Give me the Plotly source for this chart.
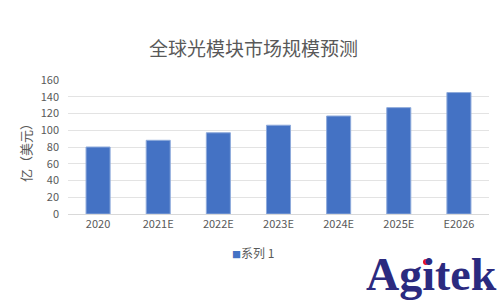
import plotly.graph_objects as go

# Global optical module market size forecast (unit: 100 million USD)
categories = ["2020", "2021E", "2022E", "2023E", "2024E", "2025E", "E2026"]
values = [80, 88, 97, 106, 117, 127, 145]
series_name = "系列 1"
chart_title = "全球光模块市场规模预测"
y_title = "亿（美元）"
y_ticks = [0, 20, 40, 60, 80, 100, 120, 140, 160]

FONT = "Noto Sans CJK SC"
GRAY = "#595959"
BAR = "#4472C4"

fig = go.Figure()
fig.add_trace(go.Bar(
    x=categories,
    y=values,
    name=series_name,
    marker=dict(color=BAR, line=dict(color="#8eaadb", width=1)),
    showlegend=False,
))

fig.update_layout(
    width=500,
    height=300,
    margin=dict(l=68, r=11, t=80, b=86),
    paper_bgcolor="white",
    plot_bgcolor="white",
    bargap=0.6,
    font=dict(family=FONT, color=GRAY, size=11),
    title=dict(
        text=chart_title,
        x=0.507, xanchor="center",
        y=0.835, yanchor="middle",
        font=dict(family=FONT, size=19, color=GRAY),
    ),
    showlegend=False,
    xaxis=dict(
        type="category",
        showgrid=False,
        showline=True,
        linecolor="#d9d9d9",
        linewidth=1,
        ticks="",
        tickfont=dict(family=FONT, size=11, color=GRAY),
    ),
    yaxis=dict(
        range=[0, 160],
        tickvals=y_ticks,
        showgrid=True,
        gridcolor="#e3e3e3",
        gridwidth=1,
        zeroline=False,
        showline=False,
        ticks="",
        ticklabelstandoff=8,
        tickfont=dict(family=FONT, size=11, color=GRAY),
    ),
)

# compact legend: small square swatch followed by the series name
fig.add_annotation(
    text=f'<span style="color:{BAR};font-size:9px">■</span>{series_name}',
    xref="paper", yref="paper",
    x=(253 - 68) / 421, y=(214 - 252) / 134,
    xanchor="center", yanchor="middle",
    showarrow=False,
    font=dict(family=FONT, size=12, color=GRAY),
)

# rotated y-axis title
fig.add_annotation(
    text=y_title,
    xref="paper", yref="paper",
    x=(25 - 68) / 421, y=(214 - 150) / 134,
    xanchor="center", yanchor="middle",
    textangle=-90,
    showarrow=False,
    font=dict(family=FONT, size=13, color=GRAY),
)

# brand mark in the lower right corner
fig.add_annotation(
    text="<b>Agitek</b>",
    xref="paper", yref="paper",
    x=(431 - 68) / 421, y=(214 - 274) / 134,
    xanchor="center", yanchor="middle",
    showarrow=False,
    font=dict(family="Liberation Serif", size=46, color="#2b2a7f"),
)
fig.add_shape(
    type="circle",
    xref="paper", yref="paper",
    x0=(423 - 68) / 421, x1=(429 - 68) / 421,
    y0=(214 - 265) / 134, y1=(214 - 259) / 134,
    fillcolor="#e8101c",
    line=dict(width=0),
    layer="above",
)

fig.write_html("out.html")
